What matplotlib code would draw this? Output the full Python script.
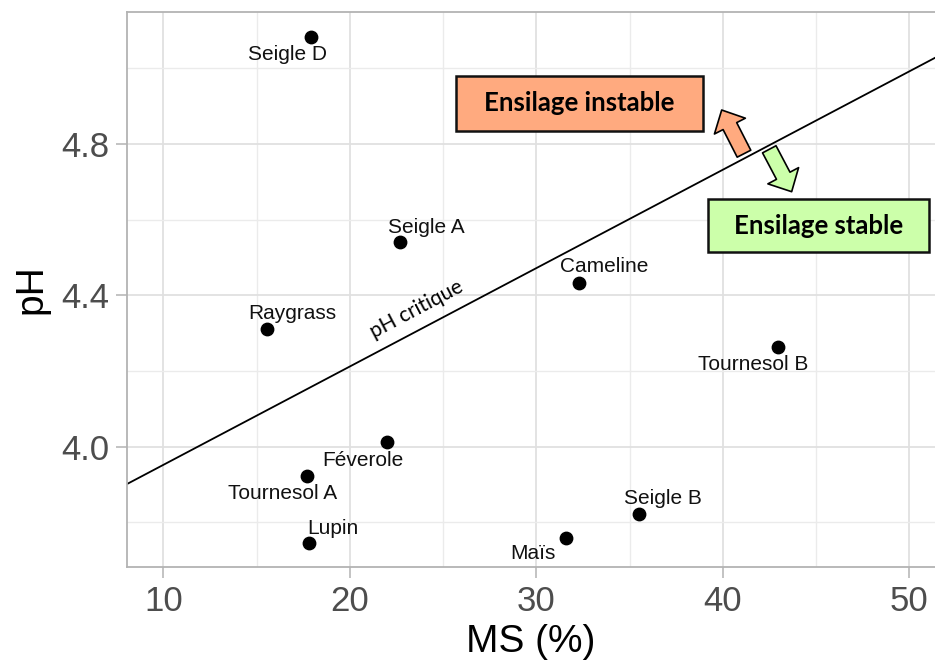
import numpy as np
import matplotlib
matplotlib.use("Agg")
import matplotlib.pyplot as plt
from matplotlib.patches import Rectangle, FancyArrowPatch

# ---- data ----
labels = ["Seigle D", "Seigle A", "Cameline", "Raygrass", "Tournesol B",
          "Féverole", "Tournesol A", "Lupin", "Maïs", "Seigle B"]
ms = [17.92, 22.69, 32.29, 15.55, 42.96, 22.01, 17.69, 17.81, 31.60, 35.52]
ph = [5.084, 4.541, 4.433, 4.311, 4.264, 4.012, 3.922, 3.745, 3.758, 3.821]
crit_slope = 0.0260
crit_intercept = 3.692
x_ticks = [10, 20, 30, 40, 50]
y_ticks = [4.0, 4.4, 4.8]

# label offsets in pixels (dx, dy), layout only
label_offsets = [(-24, -18), (26, 15), (25, 16), (25, 16), (-25, -18),
                 (-24, -18), (-24, -17), (24, 15), (-33, -15), (24, 16)]

plt.rcParams['font.family'] = ['Liberation Sans', 'DejaVu Sans']

fig = plt.figure(figsize=(9.35, 6.64), dpi=100)
ax = fig.add_axes([127/935, 1-567/664, 808/935, 555/664])

xlim = (8.05, 51.38)
ylim = (3.682, 5.149)
ax.set_xlim(*xlim)
ax.set_ylim(*ylim)

# grid
ax.set_xticks(x_ticks)
ax.set_yticks(y_ticks)
ax.set_xticks([15, 25, 35, 45], minor=True)
ax.set_yticks([3.8, 4.2, 4.6, 5.0], minor=True)
ax.grid(True, which='major', color='#E0E0E0', linewidth=1.3, zorder=0)
ax.grid(True, which='minor', color='#EBEBEB', linewidth=1.0, zorder=0)
ax.set_axisbelow(True)
ax.tick_params(which='minor', length=0)
ax.tick_params(which='major', length=8, width=1.1, color='#B3B3B3',
               labelsize=25, labelcolor='#4D4D4D', pad=5)
ax.set_yticklabels([f"{v:.1f}" for v in y_ticks])

for s in ['left', 'top', 'bottom']:
    ax.spines[s].set_color('#B3B3B3')
    ax.spines[s].set_linewidth(1.3)
ax.spines['right'].set_visible(False)

# critical line
xs = np.array(xlim)
ax.plot(xs, crit_intercept + crit_slope * xs, color='black', lw=1.3, zorder=2)
ax.text(0.3589, 0.4640, "pH critique", transform=ax.transAxes, rotation=27.8,
        rotation_mode='anchor', ha='center', va='center', fontsize=15,
        family=['Lato', 'DejaVu Sans'], zorder=3)

# points
ax.scatter(ms, ph, s=80, color='black', zorder=4)
for lab, x, y, (dx, dy) in zip(labels, ms, ph, label_offsets):
    ax.annotate(lab, (x, y), xytext=(dx, dy), textcoords='offset pixels',
                ha='center', va='center', fontsize=15, color='#111111', zorder=5)

ax.set_xlabel("MS (%)", fontsize=28, labelpad=4)
ax.set_ylabel("pH", fontsize=28, labelpad=8)

# annotation boxes
orange = '#FFAA7F'
green = '#CCFFAA'
ax.add_patch(Rectangle((0.4072, 0.7861), 0.7132-0.4072, 0.8847-0.7861,
                       transform=ax.transAxes, facecolor=orange,
                       edgecolor='#111111', lw=1.8, zorder=6, clip_on=False))
ax.text((0.4072+0.7132)/2, (0.7861+0.8847)/2, "Ensilage instable",
        transform=ax.transAxes, ha='center', va='center', fontsize=18.5,
        fontweight='bold', family=['Lato', 'DejaVu Sans'], zorder=7)
ax.add_patch(Rectangle((0.7194, 0.5681), 0.9929-0.7194, 0.6625-0.5681,
                       transform=ax.transAxes, facecolor=green,
                       edgecolor='#111111', lw=1.8, zorder=6, clip_on=False))
ax.text((0.7194+0.9929)/2, (0.5681+0.6625)/2, "Ensilage stable",
        transform=ax.transAxes, ha='center', va='center', fontsize=18.5,
        fontweight='bold', family=['Lato', 'DejaVu Sans'], zorder=7)

style = "simple,head_length=13,head_width=25,tail_width=11"
ax.add_patch(FancyArrowPatch((0.7636, 0.7447), (0.7360, 0.8234),
                             transform=ax.transAxes, arrowstyle=style,
                             mutation_scale=1, shrinkA=0, shrinkB=0,
                             facecolor=orange, edgecolor='black', lw=1.2,
                             zorder=6))
ax.add_patch(FancyArrowPatch((0.7949, 0.7526), (0.8226, 0.6762),
                             transform=ax.transAxes, arrowstyle=style,
                             mutation_scale=1, shrinkA=0, shrinkB=0,
                             facecolor=green, edgecolor='black', lw=1.2,
                             zorder=6))

fig.savefig("out.png", dpi=100)
